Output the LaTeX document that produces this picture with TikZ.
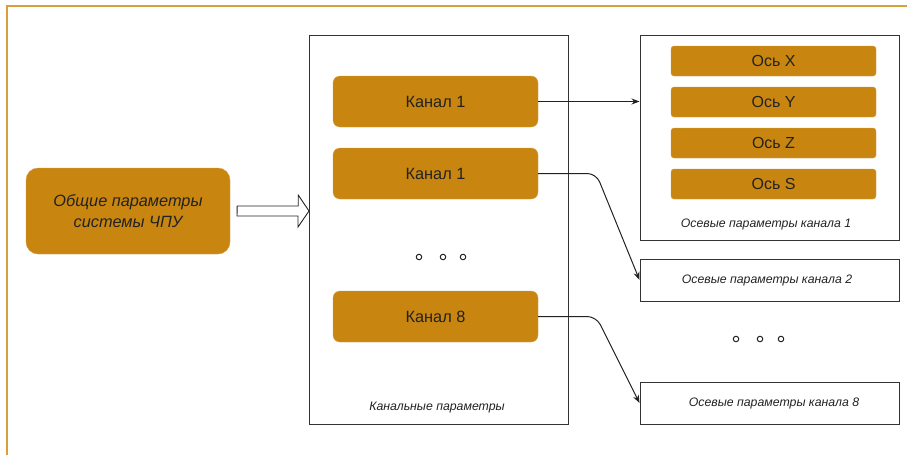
\documentclass[tikz,border=0pt]{standalone}
\usepackage{fontspec}
\setmainfont{Liberation Sans}
\usepackage{xcolor}
\usetikzlibrary{arrows.meta,calc}

\definecolor{ochre}{RGB}{200,134,16}
\definecolor{framegold}{RGB}{214,160,58}
\definecolor{ink}{RGB}{34,34,34}

\begin{document}
\begin{tikzpicture}[
    x=1pt,
    y=-1pt,
    text=ink,
    chan/.style={
        rectangle,
        fill=ochre,
        draw=ochre!80!white,
        line width=0.4pt,
        minimum width=205pt,
        minimum height=51pt,
        rounded corners=7pt,
        font=\fontsize{16.3}{19}\selectfont
    },
    axis/.style={
        rectangle,
        fill=ochre,
        draw=ochre!80!white,
        line width=0.4pt,
        minimum width=205pt,
        minimum height=30pt,
        rounded corners=3pt,
        font=\fontsize{16}{19}\selectfont
    },
    panel/.style={
        rectangle,
        draw=black!80,
        line width=1pt,
        minimum width=259pt,
        inner sep=0pt
    },
    caption/.style={font=\itshape\fontsize{12.3}{15}\selectfont},
    dot/.style={circle, draw=ink, line width=1pt, minimum size=5.5pt, inner sep=0pt},
    link/.style={-{Stealth[length=8pt,width=6pt]}, line width=1pt, draw=ink},
    hollowarrow/.style={draw=ink, line width=0.9pt, fill=white, line join=miter}
]

\useasboundingbox (0,0) rectangle (907,455);

% outer frame
\draw[framegold, line width=1.6pt] (7,455) -- (7,6) -- (907,6);

% general parameters
\node[fill=ochre, draw=ochre!80!white, line width=0.4pt, minimum width=204pt, minimum height=86pt,
      rounded corners=12pt, align=center, font=\itshape\fontsize{16.3}{21}\selectfont] (gen) at (128,211)
      {Общие параметры\\системы ЧПУ};

% channel parameters
\node[panel, minimum height=389pt] (midpanel) at (439,229.5) {};
\node[caption] (midcap) at (437,408) {Канальные параметры};

\node[chan] (ch1) at (435.5,101.5) {Канал 1};
\node[chan] (ch2) at (435.5,173.5) {Канал 1};
\node[chan] (ch8) at (435.5,316.5) {Канал 8};

\foreach \dx [count=\i] in {419,443,463}
    \node[dot] (mdot\i) at (\dx,257) {};

% axis parameters
\node[panel, minimum height=205pt] (ax1panel) at (769.5,137.5) {};
\node[caption] (ax1cap) at (766,224) {Осевые параметры канала 1};

\foreach \name/\yy in {X/61,Y/102,Z/143,S/184}
    \node[axis] (ax\name) at (773.5,\yy) {Ось \name};

\node[panel, minimum height=42pt] (ax2panel) at (769.5,280) {};
\node[caption] at (767,280) {Осевые параметры канала 2};

\foreach \dx [count=\i] in {736,760,781}
    \node[dot] (rdot\i) at (\dx,339) {};

\node[panel, minimum height=42pt] (ax8panel) at (769.5,403) {};
\node[caption] at (774,403) {Осевые параметры канала 8};

% connectors
\draw[hollowarrow] ($(gen.east)+(7,-5)$) -- ++(61,0) -- ++(0,-11) -- (gen.east -| midpanel.west)
    -- ++(-11,16) -- ++(0,-11) -- ++(-61,0) -- cycle;

\draw[link] (ch1.east) -- (ch1.east -| ax1panel.west);
\draw[link, rounded corners=9pt] (ch2.east) -- ++(58,0) -- (ax2panel.west);
\draw[link, rounded corners=9pt] (ch8.east) -- ++(58,0) -- (ax8panel.west);

\end{tikzpicture}
\end{document}
